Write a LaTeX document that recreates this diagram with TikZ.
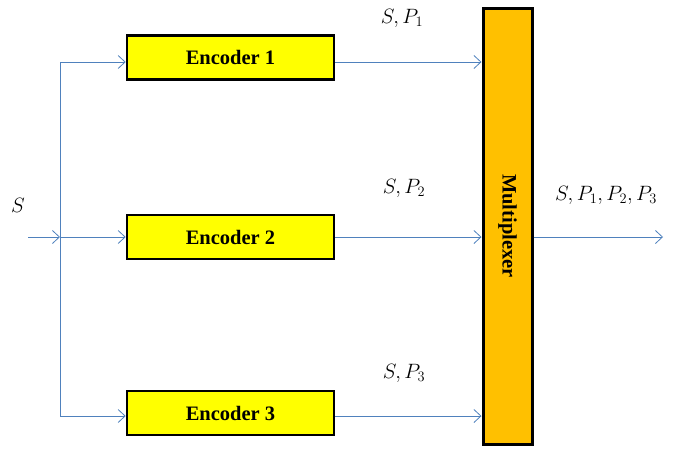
\documentclass[tikz,border=0pt]{standalone}
\usepackage{fontspec}
\setmainfont{Liberation Serif}
\usetikzlibrary{arrows.meta}
\definecolor{lineblue}{RGB}{79,129,189}
\definecolor{encyellow}{RGB}{255,255,0}
\definecolor{muxorange}{RGB}{255,192,0}
\begin{document}
\begin{tikzpicture}[x=1pt,y=-1pt,
  encbox/.style={draw=black,line width=2.6pt,fill=encyellow,minimum width=207pt,minimum height=44pt,inner sep=0pt,font=\fontsize{20.5}{24}\selectfont\bfseries},
  muxbox/.style={draw=black,line width=3pt,fill=muxorange,minimum width=49pt,minimum height=436pt,inner sep=0pt},
  conn/.style={draw=lineblue,line width=0.8pt},
  arr/.style={conn,-{Straight Barb[length=7pt,width=13pt,line width=0.8pt]}},
  lbl/.style={font=\fontsize{20.5}{24}\selectfont,inner sep=0pt}]
\useasboundingbox (0,0) rectangle (676,459);
\node[encbox] (e1) at (230.5,57.5) {Encoder 1};
\node[encbox] (e2) at (230.5,237) {Encoder 2};
\node[encbox] (e3) at (230.5,413) {Encoder 3};
\node[muxbox] (mux) at (507.5,226) {};
\node[rotate=-90,font=\fontsize{20.5}{24}\selectfont\bfseries] (muxlbl) at (mux.center) {Multiplexer};
\coordinate (in) at (28,237);
\coordinate (j) at (60,237);
\coordinate (jt) at (60,62);
\coordinate (jb) at (60,416);
\coordinate (out) at (663,237);
\draw[arr] (in) -- (j);
\draw[conn] (jt) -- (jb);
\draw[arr] (jt) -- (e1.west |- jt);
\draw[arr] (j) -- (e2.west);
\draw[arr] (jb) -- (e3.west |- jb);
\draw[arr] (e1.east |- jt) -- (mux.west |- jt);
\draw[arr] (e2.east) -- (mux.west |- e2.east);
\draw[arr] (e3.east |- jb) -- (mux.west |- jb);
\draw[arr] (mux.east |- out) -- (out);
\node[lbl] (ls) at (18,205) {$S$};
\node[lbl] (l1) at (402,18) {$S,P_1$};
\node[lbl] (l2) at (404,188) {$S,P_2$};
\node[lbl] (l3) at (404,373) {$S,P_3$};
\node[lbl] (l4) at (606,195) {$S,P_1,P_2,P_3$};
\end{tikzpicture}
\end{document}
